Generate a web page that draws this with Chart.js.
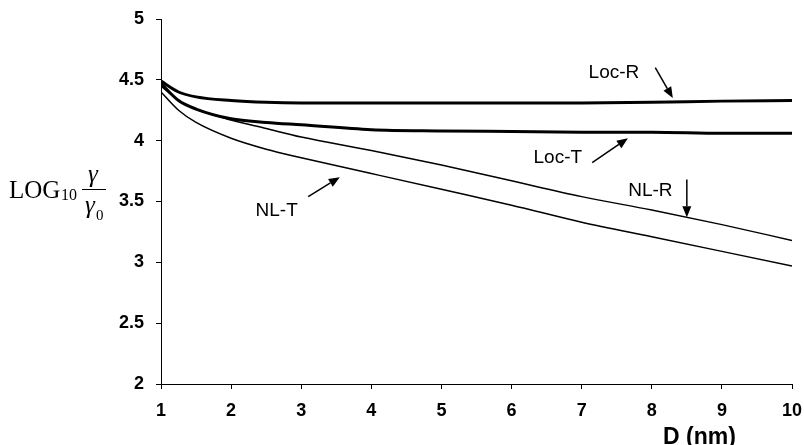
<!DOCTYPE html>
<html>
<head>
<meta charset="utf-8">
<script src="https://cdn.jsdelivr.net/npm/chart.js@4"></script>
<style>
  html, body { margin: 0; padding: 0; background: #fff; }
  #wrap { width: 804px; height: 445px; }
</style>
</head>
<body>
<div id="wrap"><canvas id="c" width="804" height="445"></canvas></div>
<script>
// Separation D (nm)
const distances = [1, 1.25, 1.5, 2, 2.5, 3, 4, 5, 6, 7, 8, 9, 10];
// log10(gamma / gamma0) for each model
const locR = [4.49, 4.40, 4.36, 4.33, 4.315, 4.31, 4.31, 4.31, 4.31, 4.31, 4.315, 4.325, 4.33];
const locT = [4.47, 4.33, 4.26, 4.18, 4.15, 4.13, 4.09, 4.08, 4.075, 4.07, 4.07, 4.06, 4.06];
const nlR  = [4.45, 4.33, 4.26, 4.17, 4.10, 4.03, 3.92, 3.80, 3.67, 3.54, 3.43, 3.31, 3.18];
const nlT  = [4.40, 4.25, 4.15, 4.02, 3.93, 3.86, 3.73, 3.60, 3.47, 3.33, 3.21, 3.09, 2.97];
const seriesNames = ['Loc-R', 'Loc-T', 'NL-R', 'NL-T'];
const xTicks = [1, 2, 3, 4, 5, 6, 7, 8, 9, 10];
const yTicks = [2, 2.5, 3, 3.5, 4, 4.5, 5];

const SANS = '"Liberation Sans", Arial, Helvetica, sans-serif';
const SERIF = '"Liberation Serif", "Times New Roman", serif';

function pts(vals) { return distances.map((d, i) => ({ x: d, y: vals[i] })); }

// Callout labels with arrows, placed in data units
const callouts = [
  { text: 'Loc-R', tx: 7.46, ty: 4.56, from: [8.05, 4.60], to: [8.30, 4.35] },
  { text: 'Loc-T', tx: 6.66, ty: 3.86, from: [7.15, 3.82], to: [7.66, 4.02] },
  { text: 'NL-R',  tx: 7.98, ty: 3.59, from: [8.50, 3.68], to: [8.50, 3.37] },
  { text: 'NL-T',  tx: 2.65, ty: 3.42, from: [3.10, 3.54], to: [3.55, 3.70] }
];

function arrow(ctx, x1, y1, x2, y2) {
  const ang = Math.atan2(y2 - y1, x2 - x1);
  const len = 11, half = 4.5;
  const bx = x2 - len * Math.cos(ang), by = y2 - len * Math.sin(ang);
  ctx.beginPath();
  ctx.moveTo(x1, y1);
  ctx.lineTo(bx, by);
  ctx.lineWidth = 1.5;
  ctx.stroke();
  ctx.beginPath();
  ctx.moveTo(x2, y2);
  ctx.lineTo(bx + half * Math.sin(ang), by - half * Math.cos(ang));
  ctx.lineTo(bx - half * Math.sin(ang), by + half * Math.cos(ang));
  ctx.closePath();
  ctx.fill();
}

const decorations = {
  id: 'decorations',
  afterDraw(chart) {
    const ctx = chart.ctx;
    const xs = chart.scales.x, ys = chart.scales.y;
    ctx.save();
    ctx.fillStyle = '#000';
    ctx.strokeStyle = '#000';

    // callouts
    ctx.font = '19px ' + SANS;
    ctx.textAlign = 'center';
    ctx.textBaseline = 'middle';
    callouts.forEach(c => {
      ctx.fillText(c.text, xs.getPixelForValue(c.tx), ys.getPixelForValue(c.ty));
      arrow(ctx,
        xs.getPixelForValue(c.from[0]), ys.getPixelForValue(c.from[1]),
        xs.getPixelForValue(c.to[0]), ys.getPixelForValue(c.to[1]));
    });

    // x-axis title
    ctx.font = 'bold 23px ' + SANS;
    ctx.textAlign = 'left';
    ctx.textBaseline = 'alphabetic';
    ctx.fillText('D (nm)', 663, 444);

    // y-axis title: LOG10 gamma / gamma0
    ctx.font = '25px ' + SERIF;
    ctx.fillText('LOG', 9, 198);
    ctx.font = '16px ' + SERIF;
    ctx.fillText('10', 61, 200);
    ctx.beginPath();
    ctx.moveTo(82, 189.5);
    ctx.lineTo(106, 189.5);
    ctx.lineWidth = 1;
    ctx.stroke();
    ctx.font = 'italic 25px ' + SERIF;
    ctx.textAlign = 'center';
    ctx.fillText('\u03b3', 93, 182);
    ctx.fillText('\u03b3', 90, 213);
    ctx.font = '15px ' + SERIF;
    ctx.textAlign = 'left';
    ctx.fillText('0', 96, 220);
    ctx.restore();
  }
};

const widths = [3, 3, 1.5, 1.5];
const values = [locR, locT, nlR, nlT];
const tickFont = { family: SANS, size: 18, weight: 'bold' };

new Chart(document.getElementById('c'), {
  type: 'line',
  data: {
    datasets: seriesNames.map((name, i) => ({
      label: name,
      data: pts(values[i]),
      borderColor: '#000',
      borderWidth: widths[i],
      pointRadius: 0,
      cubicInterpolationMode: 'monotone',
      fill: false
    }))
  },
  options: {
    responsive: false,
    animation: false,
    layout: { padding: { top: 19, right: 12, left: 0, bottom: 0 } },
    plugins: { legend: { display: false }, tooltip: { enabled: false } },
    scales: {
      x: {
        type: 'linear',
        min: 1, max: 10,
        afterBuildTicks(s) { s.ticks = xTicks.map(v => ({ value: v })); },
        afterFit(s) { s.height = 61; s.paddingLeft = 0; s.paddingRight = 0; },
        border: { color: '#000', width: 1 },
        grid: { drawOnChartArea: false, drawTicks: true, tickLength: 5, color: '#000' },
        ticks: { color: '#000', padding: 11, maxRotation: 0, font: tickFont }
      },
      y: {
        min: 2, max: 5,
        afterBuildTicks(s) { s.ticks = yTicks.map(v => ({ value: v })); },
        afterFit(s) { s.width = 161; s.paddingTop = 0; s.paddingBottom = 0; },
        border: { color: '#000', width: 1 },
        grid: { drawOnChartArea: false, drawTicks: true, tickLength: 5, color: '#000' },
        ticks: { color: '#000', padding: 12, font: tickFont, callback: v => String(v) }
      }
    }
  },
  plugins: [decorations]
});
</script>
</body>
</html>
